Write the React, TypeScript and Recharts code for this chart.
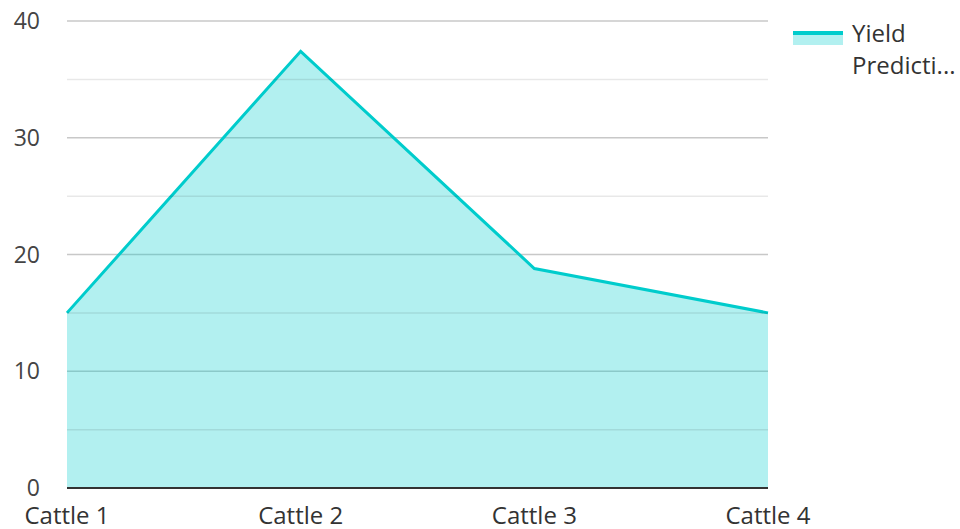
import { AreaChart, Area, XAxis, YAxis, CartesianGrid, ReferenceLine } from "recharts";

const cattle = ["Cattle 1", "Cattle 2", "Cattle 3", "Cattle 4"];
const yieldPrediction = [15, 37.4, 18.8, 15];
const majorTicks = [0, 10, 20, 30, 40];
const minorTicks = [5, 15, 25, 35];

const data = cattle.map((name, i) => ({ name, value: yieldPrediction[i] }));

const FONT = "'Open Sans', sans-serif";
const TEAL = "#00CCCC";

export default function App() {
  return (
    <div style={{ position: "absolute", left: 0, top: 0, width: 960, height: 529, fontFamily: FONT }}>
      <AreaChart
        width={960}
        height={529}
        data={data}
        margin={{ top: 21, right: 192, bottom: 0, left: 17 }}
      >
        <CartesianGrid vertical={false} stroke="#c8c8c8" strokeWidth={1.5} />
        <XAxis
          dataKey="name"
          tick={{ fill: "#333", fontSize: 24, fontFamily: FONT }}
          axisLine={{ stroke: "#333", strokeWidth: 2 }}
          tickLine={false}
          tickMargin={13}
          height={41}
        />
        <YAxis
          domain={[0, 40]}
          ticks={majorTicks}
          tick={{ fill: "#444", fontSize: 23, fontFamily: FONT }}
          axisLine={false}
          tickLine={false}
          tickMargin={21}
          width={50}
        />
        <Area
          type="linear"
          dataKey="value"
          stroke={TEAL}
          strokeWidth={3}
          fill={TEAL}
          fillOpacity={0.3}
          isAnimationActive={false}
        />
        {minorTicks.map((t) => (
          <ReferenceLine key={t} y={t} stroke="rgba(0,0,0,0.09)" strokeWidth={1.5} />
        ))}
      </AreaChart>
      <div style={{ position: "absolute", left: 793, top: 31, width: 50, height: 14 }}>
        <div style={{ height: 4, background: TEAL }} />
        <div style={{ height: 10, background: TEAL, opacity: 0.3 }} />
      </div>
      <div
        style={{
          position: "absolute",
          left: 852,
          top: 17,
          fontSize: 24,
          lineHeight: "32px",
          color: "#333",
        }}
      >
        <div>Yield</div>
        <div>Predicti...</div>
      </div>
    </div>
  );
}
